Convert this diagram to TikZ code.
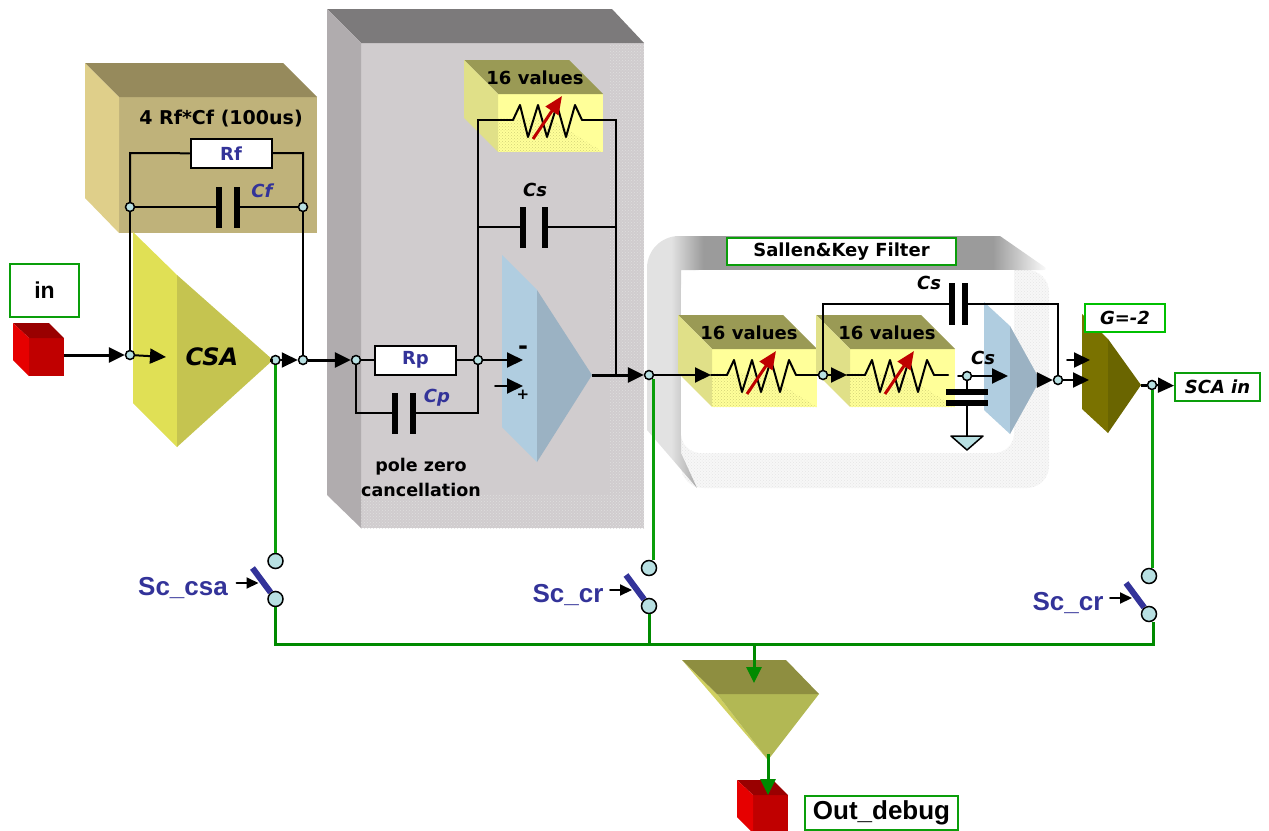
\documentclass[tikz,border=0pt]{standalone}
\usepackage{fontspec}
\setmainfont{DejaVu Sans}
\newfontfamily\arialfont{Liberation Sans}
\usepackage{xcolor}
\usetikzlibrary{arrows.meta,patterns,calc}

\definecolor{boxgreen}{HTML}{0A9E0A}
\definecolor{busgreen}{HTML}{008A00}
\definecolor{limegreen}{HTML}{00C000}
\definecolor{juncblue}{HTML}{B8E0E2}
\definecolor{labelblue}{HTML}{333399}
\definecolor{skgrey}{HTML}{9B9B9B}
\definecolor{sklight}{HTML}{E2E2E2}
\pgfdeclarehorizontalshading{skband}{100bp}{color(0bp)=(sklight); color(28bp)=(sklight); color(32bp)=(skgrey); color(68bp)=(skgrey); color(75bp)=(white); color(100bp)=(white)}

\begin{document}
\begin{tikzpicture}[
  x=1pt, y=-1pt,
  >={Triangle[length=16pt,width=15pt]},
  every node/.style={font=\fontsize{18}{25}\selectfont\bfseries, inner sep=0pt},
  junction/.style={draw=black, line width=1.5pt, fill=juncblue, circle, minimum size=9pt},
  swnode/.style={draw=black, line width=1.5pt, fill=juncblue, circle, minimum size=15pt},
  plateV/.style={fill=black, minimum width=6pt, minimum height=41pt},
  plateH/.style={fill=black, minimum width=42pt, minimum height=6pt},
  resbox/.style={draw=black, line width=2pt, fill=white, minimum width=81pt, minimum height=29pt, text=labelblue},
  tagbox/.style={draw=boxgreen, line width=2pt, fill=white, anchor=north west},
  wire/.style={line width=2pt, line cap=round},
  sigwire/.style={line width=3pt},
  greenwire/.style={line width=3pt, draw=boxgreen},
  buswire/.style={line width=3pt, draw=busgreen},
  dither/.style={pattern=crosshatch dots, pattern color=#1}
]
\useasboundingbox (0,0) rectangle (1269,830);

% 3D boxes
\fill[fill={rgb,255:red,191;green,178;blue,122}] (119,97) rectangle (317,233);
\fill[fill={rgb,255:red,150;green,138;blue,92}] (85,63) -- (283,63) -- (317,97) -- (119,97) -- cycle;
\fill[fill={rgb,255:red,223;green,207;blue,138}] (85,63) -- (119,97) -- (119,233) -- (85,198) -- cycle;

\fill[fill={rgb,255:red,208;green,204;blue,206}] (361,43) rectangle (644,528);
\fill[dither=white!75!gray] (610,43) rectangle (644,528);
\fill[dither=white!75!gray] (361,495) rectangle (644,528);
\fill[fill={rgb,255:red,124;green,122;blue,123}] (327,9) -- (612,9) -- (644,43) -- (361,43) -- cycle;
\fill[fill={rgb,255:red,176;green,172;blue,174}] (327,9) -- (361,43) -- (361,528) -- (327,495) -- cycle;

% Sallen&Key frame
\fill[white!94!gray, rounded corners=22pt] (681,270) rectangle (1049,488);
\fill[dither=white!80!gray, rounded corners=22pt] (681,270) rectangle (1049,488);
\shade[shading=skband] (647,430) [rounded corners=32pt] -- (647,236) -- (710,236) [sharp corners] -- (1000,236)
  [rounded corners=6pt] -- (1049,270) [sharp corners] -- (681,270) -- (681,453) -- (697,488) -- cycle;
\fill[white] (701,270) [rounded corners=20pt] -- (681,270) -- (681,453) -- (1014,453) [sharp corners] -- (1014,270) -- cycle;

% 16 values blocks
\foreach \bn/\bx/\by in {a/464/60, b/678/315, c/816/315} {
  \begin{scope}[shift={(\bx,\by)}]
    \fill[fill={rgb,255:red,255;green,255;blue,153}] (34,34) rectangle (139,92);
    \fill[dither=olive!35] (34,58) -- (85,58) -- (139,92) -- (34,92) -- cycle;
    \fill[fill={rgb,255:red,154;green,154;blue,85}] (0,0) -- (105,0) -- (139,34) -- (34,34) -- cycle;
    \fill[fill={rgb,255:red,224;green,224;blue,136}] (0,0) -- (34,34) -- (34,92) -- (0,58) -- cycle;
    \node (val\bn) at (71,18) {16 values};
    \coordinate (res\bn l) at (49,60);
    \coordinate (res\bn r) at (118,60);
    \draw[wire, line join=round] (res\bn l) -- (56,45) -- (64,77) -- (74,45) -- (83,77) -- (93,45) -- (102,77) -- (111,45) -- (res\bn r);
    \draw[line width=3pt, draw=red!75!black, -{Triangle[length=18pt,width=15pt]}] (69,79) -- (98,36);
  \end{scope}
}

% amplifiers
\fill[fill={rgb,255:red,224;green,224;blue,85}] (133,232) -- (177,275) -- (177,447) -- (133,403) -- cycle;
\fill[fill={rgb,255:red,197;green,196;blue,80}] (177,275) -- (273,360) -- (177,447) -- cycle;
\fill[fill={rgb,255:red,176;green,205;blue,224}] (502,255) -- (537,290) -- (537,462) -- (502,427) -- cycle;
\fill[fill={rgb,255:red,155;green,178;blue,195}] (537,290) -- (592,375) -- (537,462) -- cycle;
\fill[fill={rgb,255:red,176;green,205;blue,224}] (984,302) -- (1010,326) -- (1010,434) -- (984,410) -- cycle;
\fill[fill={rgb,255:red,155;green,178;blue,195}] (1010,326) -- (1040,380) -- (1010,434) -- cycle;
\fill[fill={rgb,255:red,122;green,114;blue,0}] (1082,314) -- (1108,339) -- (1108,433) -- (1082,409) -- cycle;
\fill[fill={rgb,255:red,106;green,101;blue,0}] (1108,339) -- (1141,385) -- (1108,433) -- cycle;
\fill[fill={rgb,255:red,208;green,208;blue,96}] (682,660) -- (717,694) -- (768,760) -- cycle;
\fill[fill={rgb,255:red,178;green,184;blue,84}] (717,694) -- (819,694) -- (768,760) -- cycle;
\fill[fill={rgb,255:red,142;green,142;blue,64}] (682,660) -- (786,660) -- (819,694) -- (717,694) -- cycle;

% red pads
\foreach \px/\py in {13/323, 737/780} {
  \begin{scope}[shift={(\px,\py)}]
    \fill[fill={rgb,255:red,192;green,0;blue,0}] (16,15) rectangle (51,53);
    \fill[fill={rgb,255:red,153;green,0;blue,0}] (0,0) -- (36,0) -- (51,15) -- (16,15) -- cycle;
    \fill[fill={rgb,255:red,230;green,0;blue,0}] (0,0) -- (16,15) -- (16,53) -- (0,37) -- cycle;
  \end{scope}
}

% junctions
\node (jcsain)  [junction] at (130,355) {};
\node (jcsaout) [junction] at (275.5,360) {};
\node (jcsafb)  [junction] at (303,360) {};
\node (jcfl)    [junction] at (130,207) {};
\node (jcfr)    [junction] at (303,207) {};
\node (jpzin)   [junction] at (356,360) {};
\node (jpzout)  [junction] at (478,360) {};
\node (jcrout)  [junction] at (649,375) {};
\node (jsk)     [junction] at (823,375) {};
\node (jskcap)  [junction] at (967,376) {};
\node (jskout)  [junction] at (1058,380) {};
\node (jsca)    [junction] at (1152,385) {};

% parts
\node (rf)  [resbox] at (231,153.5) {Rf};
\node (rp)  [resbox] at (415.5,360) {Rp};
\node (cfa) [plateV] at (219,207) {};
\node (cfb) [plateV] at (237,207) {};
\node (cpa) [plateV] at (395,413) {};
\node (cpb) [plateV] at (413,413) {};
\node (csa) [plateV] at (523,227) {};
\node (csb) [plateV] at (545,227) {};
\node (ckb) [plateV, minimum height=42pt] at (965,304) {};
\node (cka) [plateV, minimum height=42pt] at (952,304) {};
\node (cga) [plateH] at (967,392) {};
\node (cgb) [plateH] at (967,403) {};
\coordinate (gnd) at (967,436);
\fill[fill=juncblue, draw=black, line width=1.5pt, line join=round] (951,436) -- (983,436) -- (967,450) -- cycle;

% labels
\node (tau) [font=\fontsize{19}{23}\selectfont\bfseries] at (221,119) {4 Rf*Cf (100us)};
\node (cflbl) [text=labelblue] at (262,191) {\itshape Cf};
\node (cplbl) [text=labelblue] at (437,398) {\itshape Cp};
\node (cslbl) at (535,190) {\itshape Cs};
\node (cskt)  at (929,283) {\itshape Cs};
\node (cskb)  at (983,358) {\itshape Cs};
\node (csatxt) [font=\fontsize{24}{26}\selectfont\bfseries\itshape] at (212,357) {CSA};
\node (pole) [align=center, font=\fontsize{17.5}{25}\selectfont\bfseries] at (421,477) {pole zero\\cancellation};
\node (minus) [font=\fontsize{24}{26}\selectfont\bfseries] at (523,350) {-};
\node (plus)  [font=\fontsize{15}{17}\selectfont\bfseries] at (523,395) {+};

\node (intag)  [tagbox, minimum width=69pt, minimum height=53pt, font=\fontsize{23}{25}\selectfont\bfseries\arialfont] at (9,263) {in};
\node (sktag)  [tagbox, minimum width=229pt, minimum height=27pt] at (726,237) {Sallen\&Key Filter};
\node (gtag)   [tagbox, draw=limegreen, minimum width=80pt, minimum height=28pt] at (1084,303) {\itshape G=-2};
\node (scatag) [tagbox, minimum width=85pt, minimum height=28pt] at (1174,372) {\itshape SCA in};
\node (outtag) [tagbox, minimum width=153pt, minimum height=34pt, font=\fontsize{26}{28}\selectfont\bfseries\arialfont] at (804,795) {Out\_debug};

% wiring
\coordinate (pad) at (64,355);
\coordinate (csaplus) at (166,357);
\coordinate (csatip) at (273,360);
\coordinate (opout) at (592,375);
\coordinate (opminus) at (523,360);
\coordinate (opplusa) at (495,386);
\coordinate (opplusb) at (523,386);
\coordinate (rfl) at (130,153);
\coordinate (rfr) at (303,153);
\coordinate (cpl) at (356,413);
\coordinate (cpr) at (478,413);
\coordinate (csl) at (478,227);
\coordinate (csr) at (616,227);
\coordinate (resatl) at (478,120);
\coordinate (resatr) at (616,120);
\coordinate (opnode) at (616,375);
\coordinate (skfirst) at (711,375);
\coordinate (sksecond) at (847,375);
\coordinate (skgap) at (948,375);
\coordinate (skgapb) at (958,376);
\coordinate (skin) at (1008,376);
\coordinate (sktop) at (823,304);
\coordinate (sktopr) at (1058,304);
\coordinate (sktip) at (1040,380);
\coordinate (garma) at (1067,360);
\coordinate (garmb) at (1090,360);
\coordinate (garmc) at (1089,380);
\coordinate (gtip) at (1141,385);

\draw[sigwire,->] (pad)     -- (jcsain);
\draw[wire,->]    (jcsain)  -- (csaplus);
\draw[sigwire]    (csatip)  -- (jcsaout);
\draw[wire,->]    (jcsaout) -- (jcsafb);
\draw[sigwire,->] (jcsafb)  -- (jpzin);
\draw[wire] (jcsain) -- (jcfl);
\draw[wire] (jcfl)   -- (rfl) -- (rf);
\draw[wire] (jcfl)   -- (cfa);
\draw[wire] (cfb)    -- (jcfr);
\draw[wire] (rf)     -- (rfr) -- (jcfr);
\draw[wire] (jcfr)   -- (jcsafb);

\draw[wire] (jpzin)  -- (rp);
\draw[wire] (rp)     -- (jpzout);
\draw[wire] (jpzin)  -- (cpl) -- (cpa);
\draw[wire] (cpb)    -- (cpr) -- (jpzout);
\draw[wire] (jpzout) -- (resatl) -- (resal);
\draw[wire] (resar)  -- (resatr) -- (opnode);
\draw[wire] (csl)    -- (csa);
\draw[wire] (csb)    -- (csr);
\draw[wire,->] (jpzout) -- (opminus);
\draw[wire,->] (opplusa) -- (opplusb);
\draw[sigwire] (opout) -- (opnode);
\draw[sigwire,->] (opnode) -- (jcrout);

\draw[wire,->] (jcrout) -- (skfirst);
\draw[wire] (skfirst) -- (resbl);
\draw[wire] (resbr) -- (jsk);
\draw[wire,->] (jsk) -- (sksecond);
\draw[wire] (sksecond) -- (rescl);
\draw[wire] (rescr) -- (skgap);
\draw[wire] (skgapb) -- (jskcap);
\draw[wire,->] (jskcap) -- (skin);
\draw[wire] (jskcap) -- (cga);
\draw[wire] (cgb) -- (gnd);
\draw[wire] (jsk) -- (sktop) -- (cka);
\draw[wire] (ckb) -- (sktopr) -- (jskout);
\draw[sigwire,->] (sktip) -- (jskout);
\draw[wire,->] (garma) -- (garmb);
\draw[wire,->] (jskout) -- (garmc);
\draw[sigwire] (gtip) -- (jsca);
\draw[wire,->] (jsca) -- (scatag);

% debug switches
\foreach \sn/\sx/\sy/\tx/\stxt in {a/275.5/561/183/Sc\_csa, b/649/568/568/Sc\_cr, c/1149/576/1068/Sc\_cr} {
  \node (sw\sn top) [swnode] at (\sx,\sy) {};
  \node (sw\sn bot) [swnode] at (\sx,\sy+38) {};
  \coordinate (lev\sn) at (\sx-23,\sy+7);
  \coordinate (act\sn a) at (\sx-39,\sy+22);
  \coordinate (act\sn b) at (\sx-17,\sy+22);
  \draw[line width=6pt, draw=labelblue] (lev\sn) -- (sw\sn bot);
  \draw[wire,-{Triangle[length=12pt,width=11pt]}] (act\sn a) -- (act\sn b);
  \node (lbl\sn) [font=\fontsize{26}{28}\selectfont\bfseries\arialfont, text=labelblue] at (\tx,\sy+27) {\stxt};
}

\coordinate (gcr) at (653,379);
\coordinate (buswest) at (275.5,644);
\coordinate (buseast) at (1153,644);
\coordinate (busout) at (754,644);
\coordinate (funin) at (754,683);
\coordinate (funout) at (768,754);
\coordinate (padout) at (768,795);
\draw[greenwire] (jcsaout) -- (swatop);
\draw[greenwire] (gcr)     -- (gcr |- swbtop.north);
\draw[greenwire] (jsca)    -- (jsca |- swctop.north);
\draw[buswire] (swabot) -- (buswest) -- (buseast) -- (swcbot.south -| buseast);
\draw[buswire] (swbbot) -- (swbbot |- buseast);
\draw[buswire, ->] (busout) -- (funin);
\draw[buswire, ->] (funout) -- (padout);

\end{tikzpicture}
\end{document}
